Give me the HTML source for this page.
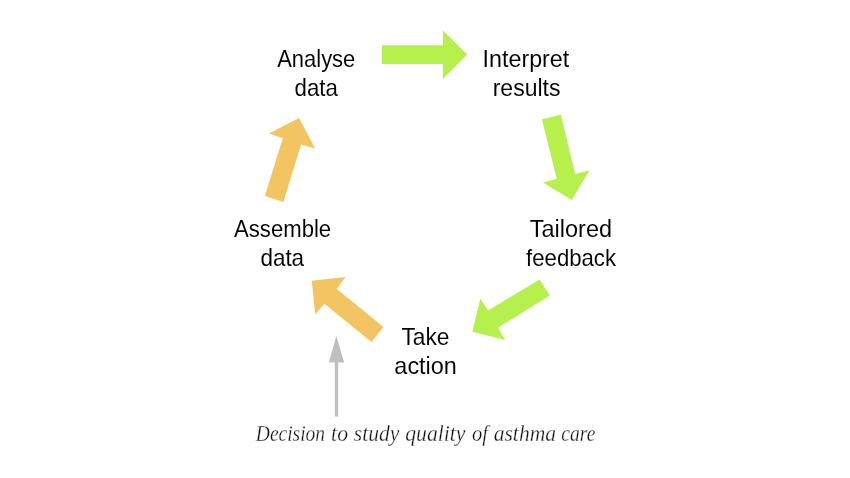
<!DOCTYPE html>
<html><head><meta charset="utf-8">
<style>
html,body{margin:0;padding:0;background:#fff;width:850px;height:478px;overflow:hidden}
svg{display:block;will-change:transform}
.l{font-family:"Liberation Sans",sans-serif;font-size:24.0px;fill:#000;stroke:#fff;stroke-width:0.05px}
.c{font-family:"Liberation Serif",serif;font-style:italic;font-size:22.3px;fill:#111;stroke:#fff;stroke-width:0.3px}
</style></head><body>
<svg width="850" height="478" viewBox="0 0 850 478">
<rect width="850" height="478" fill="#fff"/>
<polygon fill="#b5f04d" points="382,45.2 442.9,45.2 442.9,30.4 467.2,54.6 442.9,78.9 442.9,63.9 382,63.9"/>
<polygon fill="#b5f04d" points="541.9,119.2 560.8,114.8 575.2,174 589.6,170.3 571.7,200 543,182.4 556.8,178.8"/>
<polygon fill="#b5f04d" points="539.6,279.4 549.9,295.5 498.0,327.6 505.2,340 472.3,331.8 480.4,298.4 488.1,310.6"/>
<polygon fill="#f3c462" points="311.8,280.7 345.5,277.1 336.8,289.1 383.5,327 371.5,341.9 324.3,303.7 315.2,314.4"/>
<polygon fill="#f3c462" points="299.1,118 315.1,148.6 301.1,144.4 283.4,201.9 264.9,196.1 282.8,138.2 268.9,133.5"/>
<polygon fill="#c0c0c0" points="336.3,336 344.2,362.6 338.2,362.6 338.2,416.4 334.8,416.4 334.8,362.6 328.8,362.6"/>
<text class="l" transform="translate(277.19 67.00) scale(0.9152 1)">Analyse</text>
<text class="l" transform="translate(294.61 96.00) scale(0.9274 1)">data</text>
<text class="l" transform="translate(482.61 67.00) scale(0.9690 1)">Interpret</text>
<text class="l" transform="translate(492.70 96.00) scale(0.9593 1)">results</text>
<text class="l" transform="translate(233.99 237.00) scale(0.9226 1)">Assemble</text>
<text class="l" transform="translate(260.40 266.00) scale(0.9361 1)">data</text>
<text class="l" transform="translate(529.81 237.00) scale(0.9787 1)">Tailored</text>
<text class="l" transform="translate(526.07 266.00) scale(0.9240 1)">feedback</text>
<text class="l" transform="translate(401.43 345.00) scale(0.9474 1)">Take</text>
<text class="l" transform="translate(394.35 374.00) scale(0.9766 1)">action</text>
<text class="c" transform="translate(255.80 440.70) scale(0.8752 1)">Decision</text>
<text class="c" transform="translate(331.12 440.70) scale(0.9732 1)">to</text>
<text class="c" transform="translate(353.78 440.70) scale(0.9696 1)">study</text>
<text class="c" transform="translate(405.14 440.70) scale(0.9753 1)">quality</text>
<text class="c" transform="translate(472.08 440.70) scale(0.9229 1)">of</text>
<text class="c" transform="translate(493.65 440.70) scale(0.9700 1)">asthma</text>
<text class="c" transform="translate(561.21 440.70) scale(0.8809 1)">care</text>
</svg>
</body></html>
